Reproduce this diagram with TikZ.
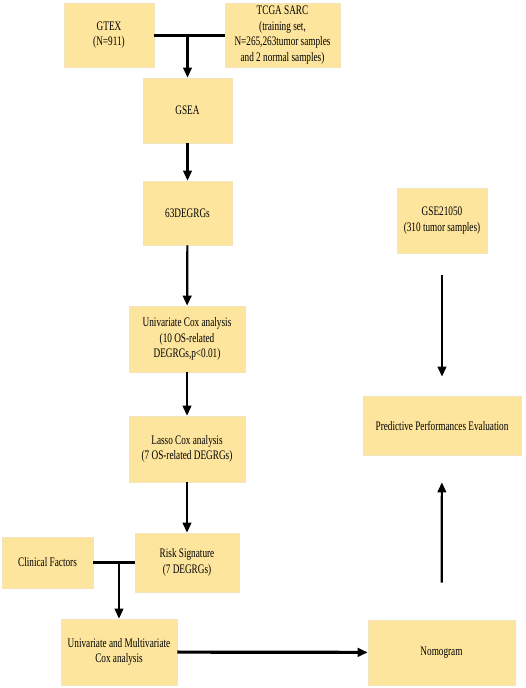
\documentclass[tikz,border=0pt]{standalone}
\usepackage{fontspec}
\setmainfont[FakeStretch=0.71]{Liberation Serif}
\usepackage{tikz}
\usetikzlibrary{arrows.meta,positioning,calc}
\definecolor{sand}{HTML}{FDE59D}
\definecolor{sandline}{HTML}{F4E4BC}
\definecolor{ink}{HTML}{000000}

\begin{document}
\begin{tikzpicture}[x=1pt,y=-1pt,font=\fontsize{13}{15.5}\selectfont,
    box/.style={draw=sandline,line width=0.6pt,fill=sand,align=center,inner sep=2pt},
    flow/.style={draw=ink,line width=2.2pt,-{Triangle[length=10pt,width=8.5pt]}},
    mergebar/.style={draw=ink,line width=3pt}]
  \useasboundingbox (0,0) rectangle (526,688);
  % data sources
  \node[box,minimum width=90pt,minimum height=64pt] (gtex) at (109,35) {GTEX\\(N=911)};
  \node[box,minimum width=115pt,minimum height=64pt] (tcga) at (282.5,35)
    {TCGA SARC\\(training set,\\N=265,263tumor samples\\and 2 normal samples)};
  % main branch
  \node[box,minimum width=89pt,minimum height=65pt] (gsea) at (187.5,110.5) {GSEA};
  \node[box,minimum width=89pt,minimum height=64pt] (degrg) at (187.5,213) {63DEGRGs};
  \node[box,minimum width=116pt,minimum height=66pt] (unicox) at (187,339)
    {Univariate Cox analysis\\(10 OS-related\\DEGRGs,p<0.01)};
  \node[box,minimum width=116pt,minimum height=66pt] (lasso) at (187,449)
    {Lasso Cox analysis\\(7 OS-related DEGRGs)};
  \node[box,minimum width=104pt,minimum height=59pt] (risk) at (187,562.5)
    {Risk Signature\\(7 DEGRGs)};
  \node[box,minimum width=91pt,minimum height=51pt] (clin) at (47.5,562.5) {Clinical Factors};
  \node[box,minimum width=116pt,minimum height=66pt] (multicox) at (119,652)
    {Univariate and Multivariate\\Cox analysis};
  % validation branch
  \node[box,minimum width=147pt,minimum height=65pt] (nomo) at (441.5,652.5) {Nomogram};
  \node[box,minimum width=90pt,minimum height=65pt] (gse) at (442,220.5)
    {GSE21050\\(310 tumor samples)};
  \node[box,minimum width=158pt,minimum height=59pt] (ppe) at (442,425.5)
    {Predictive Performances Evaluation};

  \draw[mergebar] (gtex.east) -- (tcga.west);
  \draw[flow] (gtex.east -| gsea) -- (gsea);
  \draw[flow] (gsea) -- (degrg);
  \draw[flow] (degrg) -- (unicox);
  \draw[flow] (unicox) -- (lasso);
  \draw[flow] (lasso) -- (risk);
  \draw[mergebar] (clin.east) -- (risk.west);
  \draw[flow] (clin.east -| multicox) -- (multicox);
  \draw[flow,line width=3.2pt] (multicox) -- (nomo);
  \draw[flow,shorten <=37pt,shorten >=27pt] (nomo) -- (ppe);
  \draw[flow,shorten <=22pt,shorten >=19pt] (gse) -- (ppe);
\end{tikzpicture}
\end{document}
